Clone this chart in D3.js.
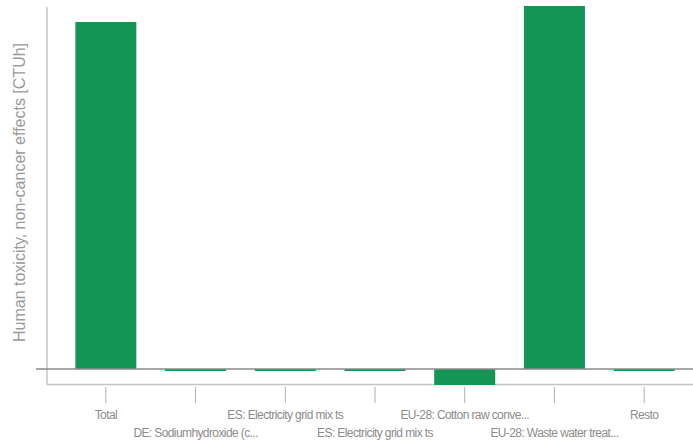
<!DOCTYPE html>
<html><head><meta charset="utf-8">
<script src="https://cdn.jsdelivr.net/npm/d3@7"></script>
<style>body{margin:0;background:#fff}svg{display:block}</style>
</head><body>
<script>
const categories = ["Total","DE: Sodiumhydroxide (c...","ES: Electricity grid mix ts","ES: Electricity grid mix ts","EU-28: Cotton raw conve...","EU-28: Waste water treat...","Resto"];
const values = [3.47, -0.02, -0.02, -0.02, -0.16, 3.63, -0.02];
const yTitle = "Human toxicity, non-cancer effects [CTUh]";

const W = 693, H = 446;
const svg = d3.select("body").append("svg").attr("width", W).attr("height", H);
const x = d3.scaleBand().domain(d3.range(categories.length)).range([61, 689]).paddingInner(0.32).paddingOuter(0.16);
const y = d3.scaleLinear().domain([-0.16, 3.63]).range([385, 6]);
const green = "#139655";

// axes lines
svg.append("line").attr("x1", 47).attr("x2", 47).attr("y1", 7).attr("y2", 385).attr("stroke", "#c4c4c4").attr("stroke-width", 1.5);
svg.append("line").attr("x1", 47).attr("x2", 693).attr("y1", 384.5).attr("y2", 384.5).attr("stroke", "#c4c4c4").attr("stroke-width", 1.5);

// bars
svg.selectAll("rect.bar").data(values).enter().append("rect")
  .attr("x", (d, i) => x(i)).attr("width", x.bandwidth())
  .attr("y", d => d >= 0 ? y(d) : y(0))
  .attr("height", d => Math.max(1.5, Math.abs(y(d) - y(0))))
  .attr("fill", green);

// zero line
svg.append("line").attr("x1", 36).attr("x2", 693).attr("y1", y(0)).attr("y2", y(0)).attr("stroke", "#8a8a8a").attr("stroke-width", 1.5);

// x ticks and labels
const g = svg.append("g");
categories.forEach((c, i) => {
  const cx = x(i) + x.bandwidth() / 2;
  g.append("line").attr("x1", cx).attr("x2", cx).attr("y1", 387).attr("y2", 403).attr("stroke", "#b0b0b0").attr("stroke-width", 1);
  g.append("text").attr("x", cx).attr("y", i % 2 === 0 ? 419 : 437)
    .attr("text-anchor", "middle").attr("font-family", "Liberation Sans, Arial, sans-serif")
    .attr("font-size", 12).attr("letter-spacing", "-0.6px").attr("fill", "#8c8c8c").text(c);
});

// y title
svg.append("text").attr("transform", "translate(25,192.5) rotate(-90)")
  .attr("text-anchor", "middle").attr("font-family", "Liberation Sans, Arial, sans-serif")
  .attr("font-size", 16).attr("fill", "#9a9a9a").text(yTitle);
</script>
</body></html>
